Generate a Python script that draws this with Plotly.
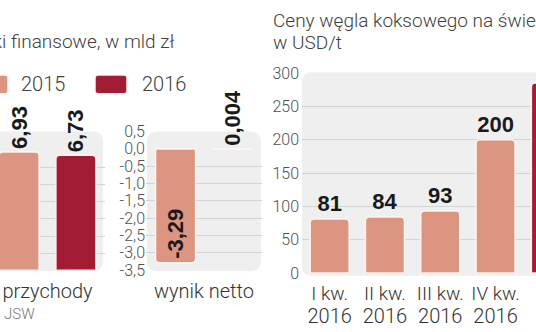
import plotly.graph_objects as go

# ---------------- data ----------------
metrics = ["przychody", "wynik netto"]
years_fin = ["2015", "2016"]
v2015 = [6.93, -3.29]
v2016 = [6.73, 0.004]
lab2015 = ["6,93", "-3,29"]
lab2016 = ["6,73", "0,004"]

quarter_keys = ["I kw. 2016", "II kw. 2016", "III kw. 2016", "IV kw. 2016", "I kw. 2017"]
quarter_lbl = ["I kw.", "II kw.", "III kw.", "IV kw.", "I kw."]
quarter_year = ["2016", "2016", "2016", "2016", "2017"]
prices = [81, 84, 93, 200, 285]

netto_ticks = [0.5, 0.0, -0.5, -1.0, -1.5, -2.0, -2.5, -3.0, -3.5]
netto_ticktext = ["0,5", "0,0", "-0,5", "-1,0", "-1,5", "-2,0", "-2,5", "-3,0", "-3,5"]
netto_grid = [-0.5, -1.0, -1.5, -2.0, -2.5, -3.0]
rev_grid = [1, 2, 3, 4, 5, 6]
price_ticks = [0, 50, 100, 150, 200, 250, 300]
price_grid = [50, 100, 150, 200, 250]

# ---------------- style ----------------
W, H = 536, 332
C15 = "#dc9580"
C16 = "#a31c36"
EDGE = "rgba(255,246,240,0.95)"
PANEL = "#efefef"
GRID = "#d3d3d3"
TXT = "#404040"
BASE_FONT = "Roboto, 'Open Sans', sans-serif"
NUM_FONT = dict(family="'Liberation Sans', Arial, sans-serif",
                size=22, color="#1a1a1a", weight="bold")


def fx(px):
    return px / W


def fy(py):
    return 1 - py / H


def rr(x0, y0, x1, y1, r):
    X0, X1 = fx(x0), fx(x1)
    Y0, Y1 = fy(y0), fy(y1)
    rx, ry = r / W, r / H
    return (f"M{X0+rx},{Y0} L{X1-rx},{Y0} Q{X1},{Y0} {X1},{Y0-ry} "
            f"L{X1},{Y1+ry} Q{X1},{Y1} {X1-rx},{Y1} L{X0+rx},{Y1} "
            f"Q{X0},{Y1} {X0},{Y1+ry} L{X0},{Y0-ry} Q{X0},{Y0} {X0+rx},{Y0} Z")


fig = go.Figure()

bar_common = dict(marker_line_color=EDGE, marker_line_width=1.5, marker_cornerradius=4,
                  cliponaxis=False, constraintext="none", textfont=NUM_FONT,
                  showlegend=False, hoverinfo="skip")

# panel 1 / 2 : finance
for i, (xa, ya) in enumerate([("x", "y"), ("x2", "y2")]):
    for yr, vals, labs, col in [("2015", v2015, lab2015, C15), ("2016", v2016, lab2016, C16)]:
        inside = vals[i] < -1
        fig.add_trace(go.Bar(
            x=[metrics[i]], y=[vals[i]], name=yr, xaxis=xa, yaxis=ya,
            marker_color=col, text=[labs[i]], textangle=-90,
            textposition="inside" if inside else "outside",
            insidetextanchor="end", offsetgroup=yr, **bar_common))

# right chart : coal prices
fig.add_trace(go.Bar(
    x=quarter_keys, y=prices, xaxis="x3", yaxis="y3", width=0.705,
    marker_color=[C15, C15, C15, C15, C16], text=[str(p) for p in prices],
    textposition="outside", textangle=0, **bar_common))

# helper traces for overlay axes (grid / second label row)
for xa, ya in [("x2", "y4"), ("x3", "y5"), ("x4", "y3")]:
    fig.add_trace(go.Scatter(x=[], y=[], xaxis=xa, yaxis=ya, showlegend=False, hoverinfo="skip"))

ax_off = dict(showline=False, zeroline=False, ticks="", fixedrange=True)
tick_cat = dict(size=20, color="#333333", family=BASE_FONT, weight=300)
tick_yr = dict(size=19, color="#333333", family=BASE_FONT, weight=300)
tick_num = dict(size=16, color="#505050", family=BASE_FONT, weight=300)

xr3 = [-0.5, (536 - 302) / 55.3 - 0.5]
rng1 = [-47.5 / 116, (105 - 47.5) / 116]
fig.update_layout(
    xaxis=dict(domain=[0, fx(105)], range=rng1, showgrid=False, tickfont=tick_cat,
               ticklabelstandoff=7, **ax_off),
    yaxis=dict(domain=[fy(277), fy(130)], range=[0, 147 / 18.1], tickmode="array",
               tickvals=rev_grid, showticklabels=False, showgrid=True, gridcolor=GRID,
               gridwidth=1, anchor="x", **ax_off),
    xaxis2=dict(domain=[fx(146), fx(262)], range=[-0.5, 0.5], showgrid=False,
                tickfont=tick_cat, anchor="y2", ticklabelstandoff=7, **ax_off),
    yaxis2=dict(domain=[fy(277), fy(130)], range=[-3.5, 0.5], tickmode="array",
                tickvals=netto_ticks, ticktext=netto_ticktext, showgrid=False,
                tickfont=tick_num, anchor="x2", **ax_off),
    yaxis4=dict(overlaying="y2", range=[-3.5, 0.5], tickmode="array", tickvals=netto_grid,
                showticklabels=False, showgrid=True, gridcolor=GRID, anchor="x2", **ax_off),
    xaxis3=dict(domain=[fx(302), 1], range=xr3, showgrid=False,
                tickmode="array", tickvals=quarter_keys, ticktext=quarter_lbl,
                tickfont=tick_yr, anchor="y3", ticklabelstandoff=7, **ax_off),
    yaxis3=dict(domain=[fy(280), fy(68)], range=[0, 300], tickmode="array",
                tickvals=price_ticks, showgrid=False, tickfont=tick_num, anchor="x3",
                ticklabelstandoff=2, **ax_off),
    yaxis5=dict(overlaying="y3", range=[0, 300], tickmode="array", tickvals=price_grid,
                showticklabels=False, showgrid=True, gridcolor=GRID, anchor="x3", **ax_off),
    xaxis4=dict(overlaying="x3", anchor="free", position=fy(311), type="linear",
                range=xr3, tickmode="array",
                tickvals=list(range(len(quarter_year))), ticktext=quarter_year,
                showgrid=False, tickfont=tick_cat, **ax_off),
)

fig.update_layout(
    width=W, height=H, margin=dict(l=0, r=0, t=0, b=0),
    paper_bgcolor="white", plot_bgcolor="rgba(0,0,0,0)",
    barmode="group", bargap=0.02, bargroupgap=0.296,
    font=dict(family=BASE_FONT, color=TXT),
    showlegend=False,
)

shapes = [
    dict(type="path", path=rr(-12, 130, 103, 278, 11), xref="paper", yref="paper",
         fillcolor=PANEL, line_width=0, layer="below"),
    dict(type="path", path=rr(147, 130, 261, 278, 11), xref="paper", yref="paper",
         fillcolor=PANEL, line_width=0, layer="below"),
    dict(type="path", path=rr(302, 67, 570, 283, 11), xref="paper", yref="paper",
         fillcolor=PANEL, line_width=0, layer="below"),
    # legend swatches
    dict(type="path", path=rr(-24, 70, 8, 90, 3), xref="paper", yref="paper",
         fillcolor=C15, line=dict(color=EDGE, width=1.5)),
    dict(type="path", path=rr(95, 70, 127, 90, 3), xref="paper", yref="paper",
         fillcolor=C16, line=dict(color=EDGE, width=1.5)),
]
fig.update_layout(shapes=shapes)

ann_font = dict(family=BASE_FONT, size=20, color=TXT, weight=300)
title_font = dict(family=BASE_FONT, size=19, color=TXT, weight=300)
annotations = [
    dict(text="Wyniki finansowe, w mld zł", x=fx(177), y=fy(34), xanchor="right",
         yanchor="middle", font=dict(family=BASE_FONT, size=19, color=TXT, weight=300)),
    dict(text=years_fin[0], x=fx(19), y=fy(80), xanchor="left", yanchor="middle", font=ann_font),
    dict(text=years_fin[1], x=fx(140), y=fy(80), xanchor="left", yanchor="middle", font=ann_font),
    dict(text="Ceny węgla koksowego na świecie", x=fx(271), y=fy(12), xanchor="left",
         yanchor="middle", font=title_font),
    dict(text="w USD/t", x=fx(271), y=fy(36), xanchor="left", yanchor="middle", font=title_font),
    dict(text="JSW", x=fx(2), y=fy(323), xanchor="left", yanchor="middle",
         font=dict(family=BASE_FONT, size=15, color="#777777", weight=300)),
]
for a in annotations:
    a.update(xref="paper", yref="paper", showarrow=False)
fig.update_layout(annotations=annotations)

fig.write_html("out.html")
